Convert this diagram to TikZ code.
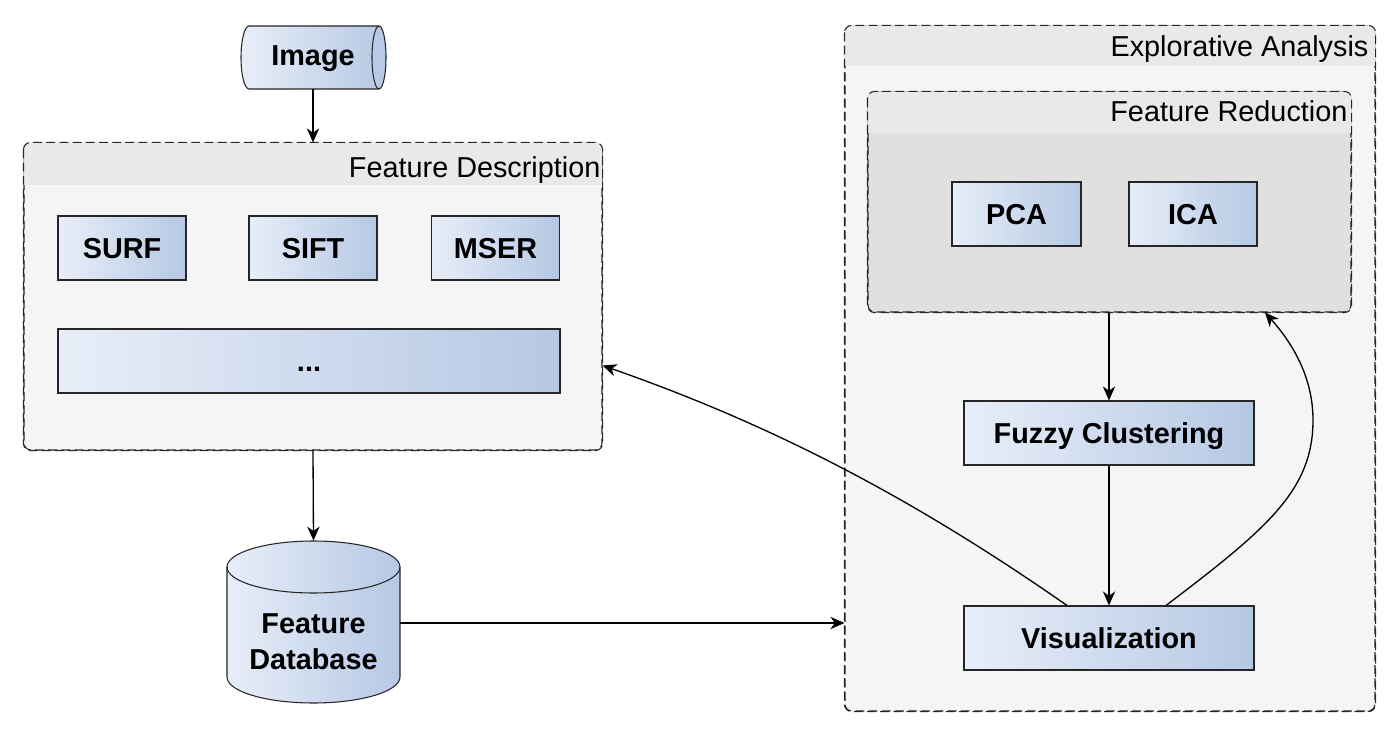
\documentclass[tikz,border=0pt]{standalone}
\usepackage{fontspec}
\setmainfont{Liberation Sans}
\usetikzlibrary{arrows.meta,calc}

\definecolor{boxleft}{RGB}{232,238,248}
\definecolor{boxright}{RGB}{181,200,228}
\definecolor{grpbody}{RGB}{245,245,245}
\definecolor{grphead}{RGB}{233,233,233}
\definecolor{redbody}{RGB}{224,224,224}

\newcommand{\px}{0.02cm}

\tikzset{
  blockfill/.style={draw=black!85, line width=0.6pt, left color=boxleft, right color=boxright},
  block/.style={blockfill, minimum width=128*\px, minimum height=64*\px, inner sep=0pt,
    text height=11.75pt, text depth=0pt, font=\fontsize{16.4}{20.4}\selectfont\bfseries},
  label/.style={inner sep=0pt, align=center, font=\fontsize{16.4}{20.4}\selectfont\bfseries},
  group/.style={draw=black!85, dashed, dash pattern=on 5pt off 2.5pt, line width=0.6pt,
    rounded corners=4pt, inner sep=0pt},
  grptitle/.style={anchor=base east, inner sep=1pt, font=\fontsize{16.4}{19.6}\selectfont},
  flow/.style={line width=0.75pt, -{Stealth[length=8pt,width=7pt,inset=2.5pt]}}
}

\begin{document}
\begin{tikzpicture}[x=\px, y=-\px]
\useasboundingbox (0,0) rectangle (1400,736);

% containers first, so the blocks sit on top
\node (fd) [group, fill=grpbody, minimum width=578*\px, minimum height=307*\px] at (313,296.5) {};
\node (ea) [group, fill=grpbody, minimum width=530*\px, minimum height=685*\px] at (1110,368.5) {};
\begin{scope}
\clip[rounded corners=4pt] (fd.north west) rectangle (fd.south east);
\fill[grphead] (fd.north west) rectangle ($(fd.north east)+(0,43)$);
\end{scope}
\begin{scope}
\clip[rounded corners=4pt] (ea.north west) rectangle (ea.south east);
\fill[grphead] (ea.north west) rectangle ($(ea.north east)+(0,41)$);
\end{scope}
\draw[group] (fd.north west) rectangle (fd.south east);
\draw[group] (ea.north west) rectangle (ea.south east);

\node (fr) [group, fill=redbody, minimum width=483*\px, minimum height=220*\px] at (1109.5,202) {};
\begin{scope}
\clip[rounded corners=4pt] (fr.north west) rectangle (fr.south east);
\fill[grphead] (fr.north west) rectangle ($(fr.north east)+(0,42)$);
\end{scope}
\draw[group] (fr.north west) rectangle (fr.south east);

\node (fdtitle) [grptitle] at ($(fd.north east)+(0,35)$) {Feature Description};
\node (eatitle) [grptitle] at ($(ea.north east)+(-5,31)$) {Explorative Analysis};
\node (frtitle) [grptitle] at ($(fr.north east)+(-2,30)$) {Feature Reduction};

% input and storage cylinders
\draw[blockfill] (249,26) -- (379,26) arc[start angle=90, end angle=-90, x radius=7*\px, y radius=31.5*\px]
  -- (249,89) arc[start angle=-90, end angle=-270, x radius=8*\px, y radius=31.5*\px] -- cycle;
\draw[line width=0.6pt, black!85] (379,26) arc[start angle=90, end angle=270, x radius=7*\px, y radius=31.5*\px];
\draw[blockfill] (227,567) -- (227,677) arc[start angle=180, end angle=360, x radius=86.5*\px, y radius=26*\px]
  -- (400,567) arc[start angle=0, end angle=180, x radius=86.5*\px, y radius=26*\px] -- cycle;
\draw[line width=0.6pt, black!85] (227,567) arc[start angle=180, end angle=360, x radius=86.5*\px, y radius=26*\px];

\node (img) [label, text height=11.75pt, text depth=2.8pt, minimum width=145*\px, minimum height=63*\px] at (313,57.5) {Image};
\node (db) [minimum width=173*\px, minimum height=162*\px] at (313.5,622) {};
\node (dblabel) [label] at (313.5,642) {Feature\\Database};

% descriptors
\node (surf) [block] at (122,248) {SURF};
\node (sift) [block] at (313,248) {SIFT};
\node (mser) [block] at (495.5,248) {MSER};
\node (more) [block, minimum width=502*\px] at (309,361) {...};

% analysis
\node (pca) [block, minimum width=129*\px] at (1016.5,214) {PCA};
\node (ica) [block] at (1193,214) {ICA};
\node (fc) [block, minimum width=290*\px] at (1109,433) {Fuzzy Clustering};
\node (vis) [block, minimum width=290*\px] at (1109,638) {Visualization};

\draw[flow] (img.south) -- (img |- fd.north);
\draw[flow] (fd.south) -- (db.north);
\draw[flow] (db.east |- 0,623) -- (ea.west |- 0,623);
\draw[flow] (fr.south -| fc.north) -- (fc.north);
\draw[flow] (fc) -- (vis);

\coordinate (visl) at ($(vis.north)+(-42,0)$);
\coordinate (visr) at ($(vis.north)+(57,0)$);
\draw[flow] (visl) .. controls (920,503) and (779,427) .. ($(fd.south east)+(0,-85)$);
\draw[flow] (visr) .. controls (1268,528) and (1313,490) .. (1313,420)
  .. controls (1313,380) and (1295,346) .. (fr.south -| 1265,0);

\end{tikzpicture}
\end{document}
